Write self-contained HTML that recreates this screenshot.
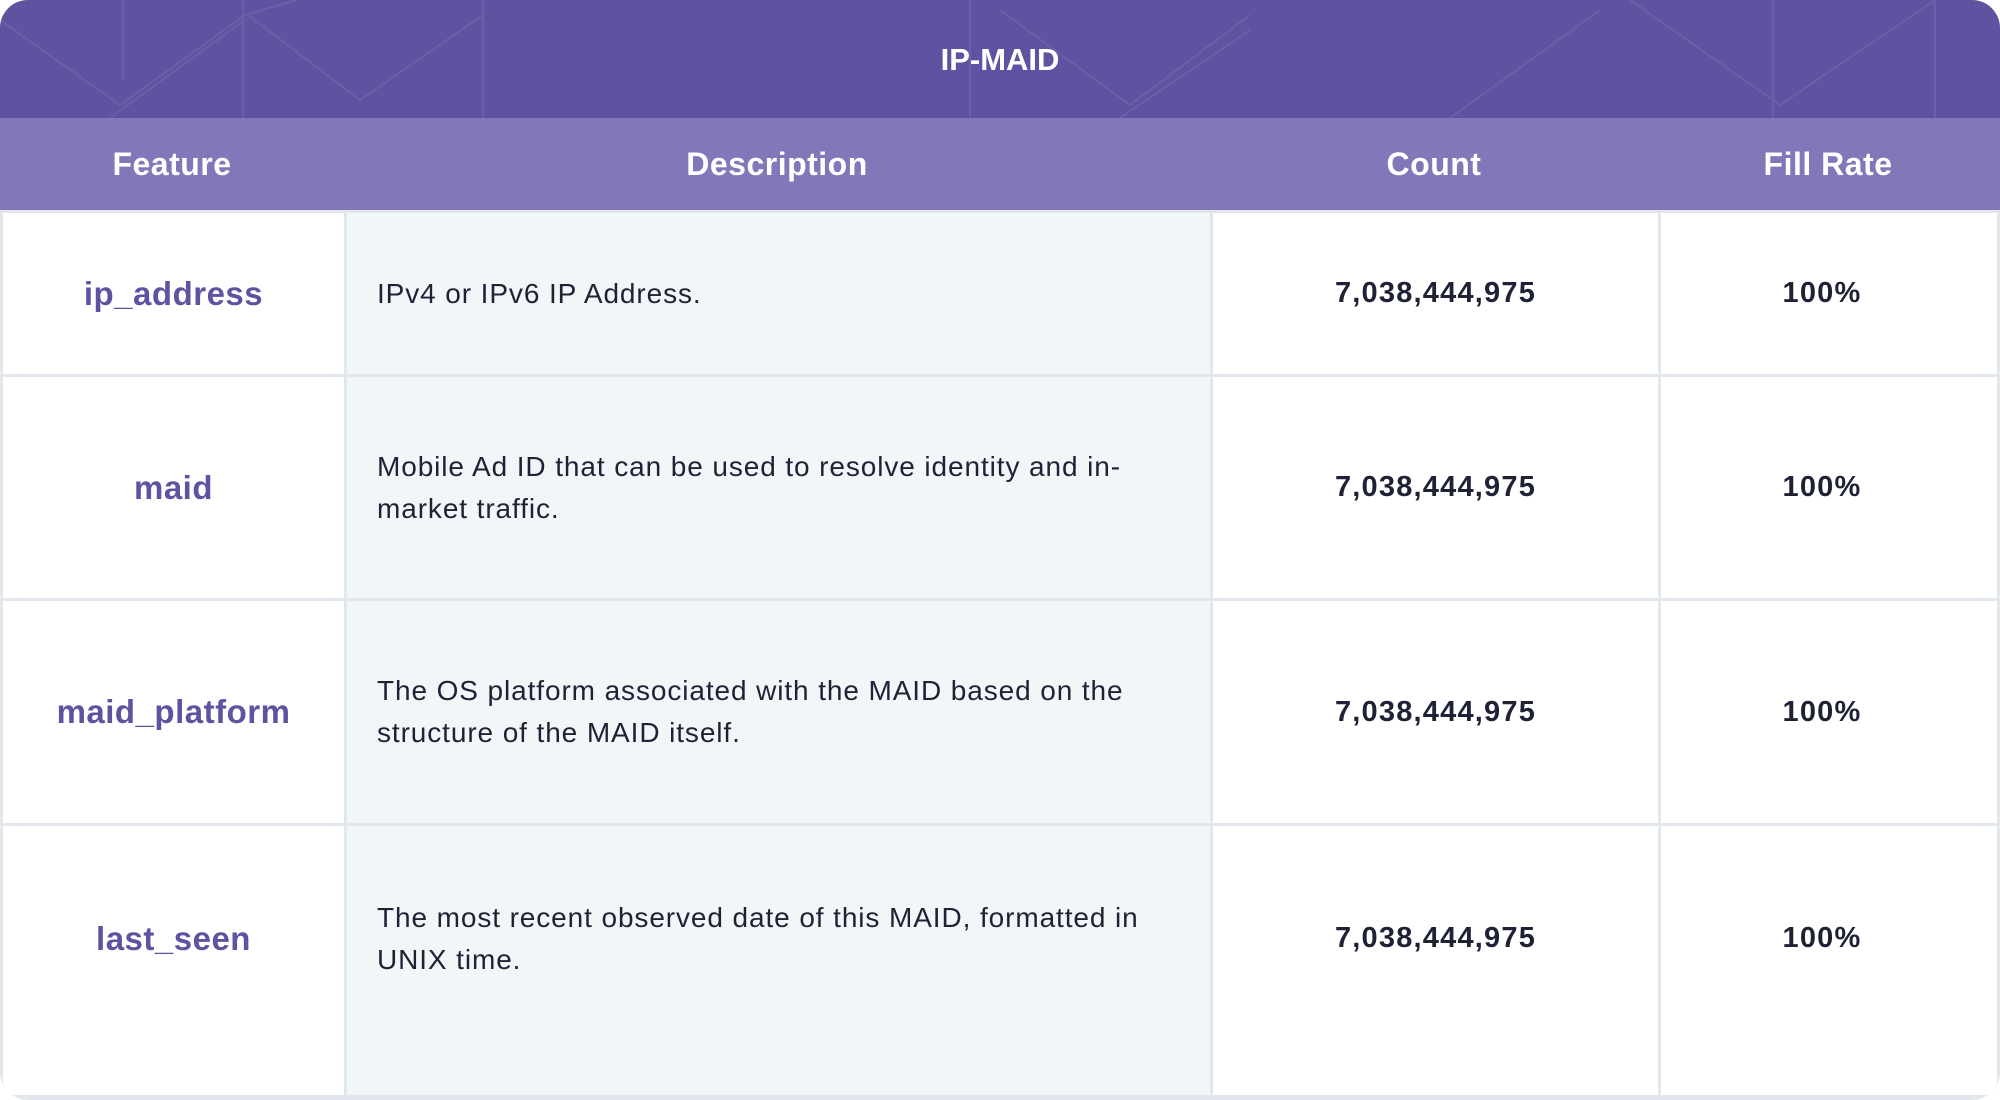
<!DOCTYPE html>
<html><head><meta charset="utf-8"><style>
body{margin:0;width:2000px;height:1100px;background:#fff;font-family:"Liberation Sans",sans-serif;overflow:hidden}
.frame{position:absolute;left:0;top:0;width:2000px;height:1100px;border-radius:28px;background:#e2e7ee;overflow:hidden}
.title{position:absolute;left:0;top:0;width:2000px;height:118px;background:#5f52a0;color:#fff;font-weight:bold;font-size:31px;text-align:center;line-height:120px}
.hdr{position:absolute;top:118px;height:92px;background:#8477b9;width:2000px}
.h{position:absolute;top:118px;height:92px;line-height:92px;color:#fff;font-weight:bold;font-size:32px;text-align:center;letter-spacing:0.5px}
.cell{position:absolute;display:flex;align-items:center;box-sizing:border-box}
.f{justify-content:center;color:#5f52a0;font-weight:bold;font-size:33px;background:#fff;letter-spacing:0.5px}
.d{background:#f1f6f9;color:#1f2235;font-size:28px;line-height:42px;padding:0 40px 0 30px;letter-spacing:0.9px}
.n{justify-content:center;color:#1f2235;font-weight:bold;font-size:29px;background:#fff;letter-spacing:1.2px}
</style></head><body>
<div class="frame">
<div class="title">IP-MAID
<svg width="2000" height="118" style="position:absolute;left:0;top:0">
<g stroke="#7065ad" stroke-width="2" fill="none" opacity="0.7">
<path d="M0 20 L120 105 L245 15 L330 -10"/><path d="M123 0 V80"/><path d="M243 0 V118"/><path d="M248 15 L360 100 L483 15"/><path d="M483 0 V118"/><path d="M110 118 L245 20"/>
<path d="M970 0 V118 M1000 10 L1130 105 L1250 15 M1120 118 L1250 30 M1630 0 L1780 105 L1935 0 M1773 0 V118 M1935 0 V118 M1450 118 L1600 10"/>
</g></svg></div>
<div class="hdr"></div>
<div class="h" style="left:0;width:344px">Feature</div>
<div class="h" style="left:344px;width:866px">Description</div>
<div class="h" style="left:1210px;width:448px">Count</div>
<div class="h" style="left:1658px;width:342px;padding-right:2px;box-sizing:border-box">Fill Rate</div>
<div id="rows"></div>
</div>
<script>
const features=["ip_address","maid","maid_platform","last_seen"];
const descriptions=["IPv4 or IPv6 IP Address.","Mobile Ad ID that can be used to resolve identity and in-market traffic.","The OS platform associated with the MAID based on the structure of the MAID itself.","The most recent observed date of this MAID, formatted in UNIX time."];
const counts=["7,038,444,975","7,038,444,975","7,038,444,975","7,038,444,975"];
const fillRates=["100%","100%","100%","100%"];
const tops=[213,377,601,826],bots=[374,598,823,1095],contentH=[161,221,222,225];
const cols=[[3,341],[347,863],[1213,445],[1661,336]];
const root=document.getElementById('rows');
features.forEach((f,i)=>{
 const vals=[f,descriptions[i],counts[i],fillRates[i]];
 const cls=['f','d','n','n'];
 const names=['feature-name','feature-description','feature-count','feature-fill-rate'];
 vals.forEach((v,j)=>{
  const el=document.createElement('div');
  el.className='cell '+cls[j];
  el.style.left=cols[j][0]+'px';el.style.width=cols[j][1]+'px';
  el.style.top=tops[i]+'px';el.style.height=(bots[i]-tops[i])+'px';
  el.style.paddingBottom=((bots[i]-tops[i])-contentH[i])+'px';
  if(j==3)el.style.paddingRight='14px';
  el.textContent=v;
  
  
  root.appendChild(el);
 });
});
</script>
</body></html>
